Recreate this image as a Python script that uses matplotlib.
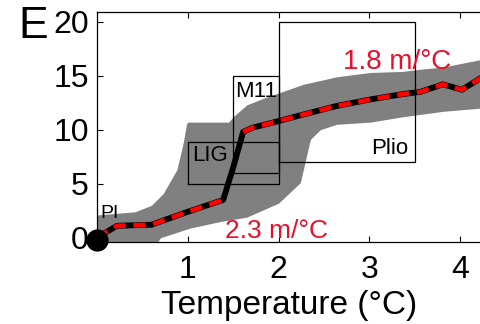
import matplotlib
matplotlib.use("Agg")
import matplotlib.pyplot as plt
import numpy as np

plt.rcParams['font.family'] = ['Liberation Sans', 'DejaVu Sans']

# Sea-level vs temperature curve (black) and red dashed fits
temp = [0, 0.22, 0.6, 1.0, 1.39, 1.5, 1.61, 1.72, 2.0, 2.27, 2.64, 3.01, 3.37, 3.56, 3.81, 4.02, 4.23]
sl = [0, 1.1, 1.2, 2.4, 3.5, 6.5, 9.8, 10.2, 10.8, 11.4, 12.2, 12.8, 13.3, 13.5, 14.2, 13.7, 14.8]

# Uncertainty band
up_x = [0, 0.42, 0.6, 0.73, 0.88, 0.95, 0.99, 1.45, 1.5, 1.65, 1.83, 2.0, 2.27, 2.64, 3.01, 3.37, 3.56, 3.81, 4.23]
up_y = [2.1, 2.4, 3.0, 4.1, 6.3, 8.8, 10.7, 10.7, 11.2, 12.3, 12.9, 13.4, 14.2, 14.9, 15.3, 15.4, 15.6, 15.8, 16.5]
lo_x = [0, 0.62, 0.7, 1.03, 1.36, 1.65, 2.0, 2.24, 2.35, 2.46, 2.64, 3.01, 3.37, 3.81, 4.23]
lo_y = [-1.0, -1.0, 0.0, 0.9, 1.5, 1.9, 3.2, 5.1, 9.1, 10.0, 10.5, 10.7, 11.2, 11.7, 12.0]

# Boxes: (label, x0, x1, y0, y1)
box_names = ['LIG', 'M11', 'Plio']
box_x0 = [1.0, 1.5, 2.0]
box_x1 = [2.0, 2.0, 3.5]
box_y0 = [5.0, 6.0, 7.0]
box_y1 = [8.9, 15.0, 20.0]

fig = plt.figure(figsize=(4.81, 3.24), dpi=100)
ax = fig.add_axes([97/481, 82/324, 1 - 97/481, 230/324])

xg = np.linspace(0, 4.23, 400)
ax.fill_between(xg, np.interp(xg, lo_x, lo_y), np.interp(xg, up_x, up_y),
                color='#808080', lw=0, zorder=1)

for x0, x1, y0, y1 in zip(box_x0, box_x1, box_y0, box_y1):
    ax.plot([x0, x1, x1, x0, x0], [y0, y0, y1, y1, y0], color='black', lw=0.9, zorder=2)

ax.plot(temp, sl, color='black', lw=4.2, zorder=3, solid_capstyle='round')
ax.plot(temp[:5], sl[:5], color='#ff0000', lw=3.4, dashes=(2.6, 1.6), zorder=4)
ax.plot(temp[6:], sl[6:], color='#ff0000', lw=3.4, dashes=(2.6, 1.6), zorder=4)
ax.plot([0], [-0.2], 'o', color='black', ms=15, clip_on=False, zorder=5)

ax.text(1.05, 7.6, 'LIG', fontsize=16, va='center', ha='left', zorder=6)
ax.text(1.52, 13.5, 'M11', fontsize=16, va='center', ha='left', zorder=6)
ax.text(3.43, 8.3, 'Plio', fontsize=16, va='center', ha='right', zorder=6)
ax.text(0.04, 2.2, 'PI', fontsize=14, va='center', ha='left', zorder=6)
ax.text(2.71, 16.3, '1.8 m/°C', fontsize=20, color='#e8102a', va='center', ha='left', zorder=6)
ax.text(1.41, 0.65, '2.3 m/°C', fontsize=19, color='#e8102a', va='center', ha='left', zorder=6)

ax.set_xlim(0, 4.23)
ax.set_ylim(-0.4, 20.9)
ax.set_xticks([1, 2, 3, 4])
ax.set_yticks([0, 5, 10, 15, 20])
ax.tick_params(direction='in', length=4, width=0.8, labelsize=23, top=True, right=False)
ax.tick_params(axis='x', pad=9)
ax.tick_params(axis='y', pad=6)
ax.spines['right'].set_visible(False)
for s in ['left', 'top', 'bottom']:
    ax.spines[s].set_linewidth(0.9)
ax.set_xlabel('Temperature (°C)', fontsize=24, labelpad=4)

fig.text(18/481, 1 - 27/324, 'E', fontsize=32, va='center', ha='left')

fig.savefig('out.png', dpi=100)
